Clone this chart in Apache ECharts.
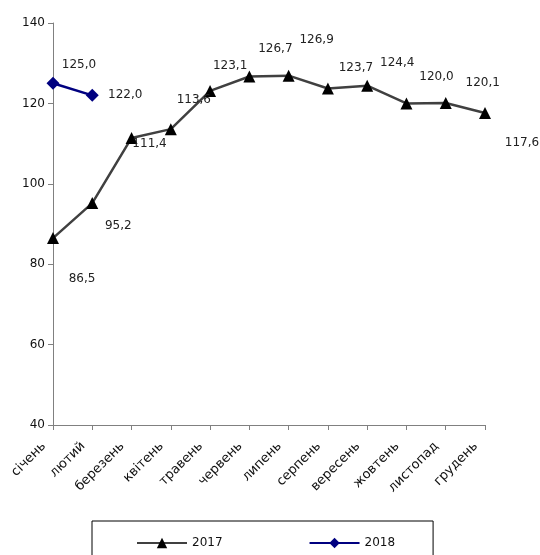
<!DOCTYPE html>
<html>
<head>
<meta charset="utf-8">
<script src="https://cdn.jsdelivr.net/npm/echarts@6/dist/echarts.min.js"></script>
<style>
  html, body { margin: 0; padding: 0; background: #fff; }
  #chart { width: 540px; height: 555px; }
</style>
</head>
<body>
<div id="chart"></div>
<script>
const months = ['січень', 'лютий', 'березень', 'квітень', 'травень', 'червень',
  'липень', 'серпень', 'вересень', 'жовтень', 'листопад', 'грудень'];
const values2017 = [86.5, 95.2, 111.4, 113.6, 123.1, 126.7, 126.9, 123.7, 124.4, 120.0, 120.1, 117.6];
const values2018 = [125.0, 122.0];

// label placement, copied by eye from the original
const offsets2017 = [[29, 41], [26, 23], [18, 6], [23, -29], [20, -25], [26, -28],
  [28, -36], [28, -21], [30, -23], [30, -27], [37, -20], [37, 30]];
const offsets2018 = [[26, -18], [33, 0]];

const fmt = (v) => v.toFixed(1).replace('.', ',');
const font = 'DejaVu Sans';

function withLabels(values, offsets) {
  return values.map((v, i) => ({
    value: v,
    label: { offset: offsets[i] }
  }));
}

const chart = echarts.init(document.getElementById('chart'));
chart.setOption({
  animation: false,
  textStyle: { fontFamily: font },
  grid: { left: 53, right: 55, top: 23, bottom: 130 },
  legend: {
    bottom: -34,
    left: 92,
    padding: [16, 38, 40, 44],
    itemGap: 86,
    itemWidth: 50,
    itemHeight: 13,
    borderColor: '#000',
    borderWidth: 1,
    textStyle: { fontFamily: font, fontSize: 12, color: '#111' },
    data: ['2017', '2018']
  },
  xAxis: {
    type: 'category',
    boundaryGap: false,
    data: months,
    axisLine: { lineStyle: { color: '#808080', width: 1 } },
    axisTick: { alignWithLabel: true, length: 5, lineStyle: { color: '#808080' } },
    axisLabel: { rotate: 45, fontSize: 13, color: '#111', margin: 10, padding: [0, 13, 0, 0], interval: 0 }
  },
  yAxis: {
    type: 'value',
    min: 40,
    max: 140,
    interval: 20,
    splitLine: { show: false },
    axisLine: { show: true, lineStyle: { color: '#808080', width: 1 } },
    axisTick: { show: true, length: 5, lineStyle: { color: '#808080' } },
    axisLabel: { fontSize: 12, color: '#111', margin: 8 }
  },
  series: [
    {
      name: '2017',
      type: 'line',
      data: withLabels(values2017, offsets2017),
      symbol: 'triangle',
      symbolSize: 12,
      itemStyle: { color: '#000' },
      lineStyle: { color: '#404040', width: 2.5 },
      label: {
        show: true,
        position: 'inside',
        fontSize: 12,
        color: '#222',
        formatter: (p) => fmt(p.value)
      }
    },
    {
      name: '2018',
      type: 'line',
      data: withLabels(values2018, offsets2018),
      symbol: 'diamond',
      symbolSize: 13,
      itemStyle: { color: '#000080' },
      lineStyle: { color: '#000080', width: 2.5 },
      label: {
        show: true,
        position: 'inside',
        fontSize: 12,
        color: '#222',
        formatter: (p) => fmt(p.value)
      }
    }
  ]
});
</script>
</body>
</html>
